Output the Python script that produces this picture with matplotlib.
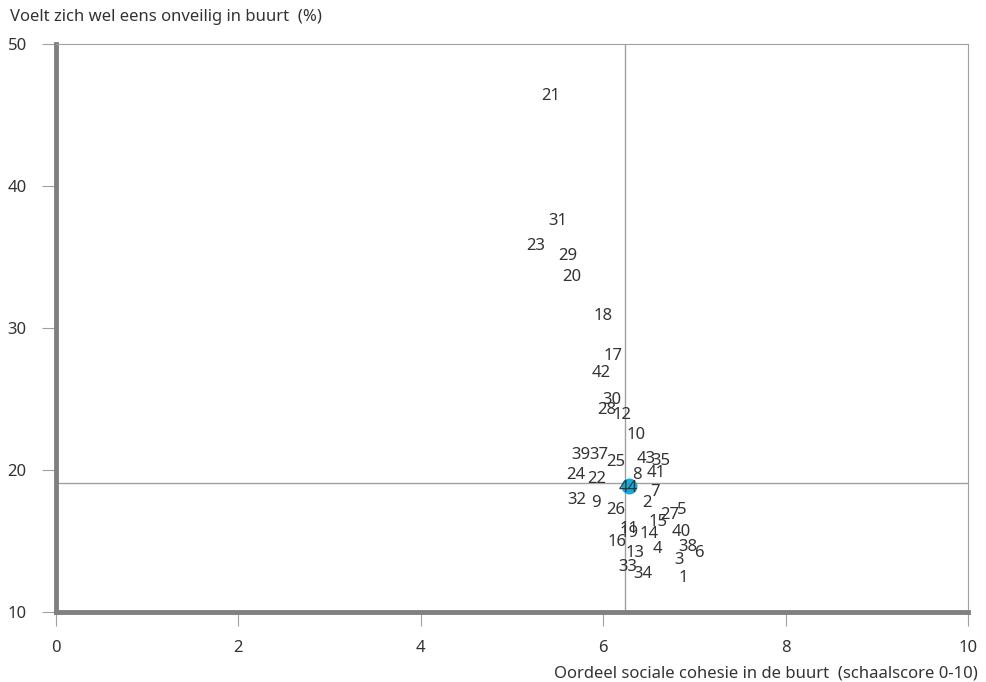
import numpy as np
import matplotlib
matplotlib.use("Agg")
from matplotlib import pyplot as plt
from matplotlib import transforms

# buurt nummer, sociale cohesie (0-10), onveilig (%)
ids = [21, 31, 23, 29, 20, 18, 17, 42, 30, 28, 12, 10, 39, 37, 25, 43, 35,
       24, 22, 8, 41, 7, 32, 9, 26, 2, 5, 27, 15, 11, 19, 14, 40, 16, 13,
       4, 38, 6, 3, 33, 34, 1]
cohesie = [5.42, 5.50, 5.26, 5.61, 5.66, 6.00, 6.11, 5.98, 6.10, 6.04, 6.21,
           6.36, 5.75, 5.95, 6.14, 6.47, 6.63, 5.70, 5.93, 6.37, 6.58, 6.57,
           5.71, 5.92, 6.14, 6.48, 6.86, 6.73, 6.60, 6.28, 6.28, 6.50, 6.86,
           6.15, 6.35, 6.60, 6.93, 7.05, 6.83, 6.27, 6.44, 6.88]
onveilig = [46.5, 37.7, 35.9, 35.2, 33.7, 31.0, 28.2, 27.0, 25.1, 24.4, 24.0,
            22.6, 21.2, 21.2, 20.7, 20.9, 20.8, 19.8, 19.5, 19.8, 19.9, 18.6,
            18.0, 17.8, 17.3, 17.8, 17.3, 17.0, 16.5, 16.0, 15.7, 15.6, 15.8,
            15.1, 14.3, 14.6, 14.7, 14.3, 13.8, 13.3, 12.8, 12.5]

# gemiddelde (44)
gem_id = 44
gem_x = 6.28
gem_y = 18.9
ref_x = 6.24
ref_y = 19.05

xticks = [0, 2, 4, 6, 8, 10]
yticks = [10, 20, 30, 40, 50]

txt = '#333333'
grey = '#808080'
plt.rcParams['font.family'] = ['Noto Sans', 'DejaVu Sans']

fig = plt.figure(figsize=(9.86, 6.82), dpi=100)
ax = fig.add_axes([56/986, 70/682, 912/986, 568/682])

ax.set_xlim(0, 10)
ax.set_ylim(10, 50)

ax.axvline(ref_x, color='#a0a0a0', lw=1, zorder=1)
ax.axhline(ref_y, color='#a0a0a0', lw=1, zorder=1)

# labels sit a touch lower than a plain centre alignment
lab_tr = transforms.offset_copy(ax.transData, fig=fig, x=0, y=-2, units='dots')
for i, x, y in zip(ids, cohesie, onveilig):
    ax.text(x, y, str(i), ha='center', va='center', fontsize=12, color=txt,
            zorder=3, transform=lab_tr)

ax.plot([gem_x], [gem_y], 'o', color='#14aadc', markersize=10.5, zorder=2)
ax.text(gem_x, gem_y, str(gem_id), ha='center', va='center', fontsize=12, color=txt,
        zorder=3, transform=lab_tr)

for s in ['top', 'right']:
    ax.spines[s].set_color('#a0a0a0')
    ax.spines[s].set_linewidth(0.8)
for s in ['left', 'bottom']:
    ax.spines[s].set_color(grey)
    ax.spines[s].set_linewidth(3.5)

ax.set_xticks(xticks)
ax.set_yticks(yticks)
ax.tick_params(axis='both', direction='out', length=10, width=0.8, color='#a0a0a0',
               labelsize=12, labelcolor=txt)
ax.tick_params(axis='x', pad=10)
ax.tick_params(axis='y', pad=11)

fig.text(10/986, 1 - 17/682, 'Voelt zich wel eens onveilig in buurt  (%)',
         ha='left', va='center', fontsize=12, color=txt)
fig.text(978/986, 1 - 673/682, 'Oordeel sociale cohesie in de buurt  (schaalscore 0-10)',
         ha='right', va='center', fontsize=12, color=txt)

fig.savefig('out.png', dpi=100)
